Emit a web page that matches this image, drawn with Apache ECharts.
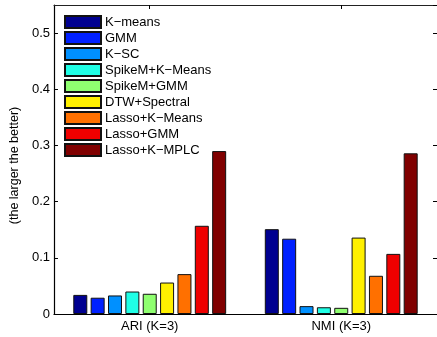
<!DOCTYPE html>
<html>
<head>
<meta charset="utf-8">
<script src="https://cdn.jsdelivr.net/npm/echarts@6/dist/echarts.min.js"></script>
<style>html,body{margin:0;padding:0;background:#fff;}#c{width:437px;height:337px;}</style>
</head>
<body>
<div id="c"></div>
<script>
const categories = ['ARI (K=3)', 'NMI (K=3)'];
const methods = ['K\u2212means', 'GMM', 'K\u2212SC', 'SpikeM+K\u2212Means', 'SpikeM+GMM', 'DTW+Spectral', 'Lasso+K\u2212Means', 'Lasso+GMM', 'Lasso+K\u2212MPLC'];
const ariValues = [0.034, 0.029, 0.033, 0.040, 0.036, 0.056, 0.071, 0.157, 0.290];
const nmiValues = [0.151, 0.134, 0.014, 0.012, 0.011, 0.136, 0.068, 0.107, 0.286];
const colors = ['#000090', '#0020FF', '#0090FF', '#1FFFE6', '#8FFF70', '#FFF000', '#FF7000', '#EF0000', '#800000'];
const yTicks = [0, 0.1, 0.2, 0.3, 0.4, 0.5];

const FONT = '"Liberation Sans", Arial, Helvetica, sans-serif';
const chart = echarts.init(document.getElementById('c'));

const series = methods.map((m, i) => ({
  name: m,
  type: 'bar',
  data: [ariValues[i], nmiValues[i]],
  barWidth: 14,
  barGap: '24%',
  itemStyle: { color: colors[i], borderColor: '#111', borderWidth: 1 },
  animation: false
}));

chart.setOption({
  animation: false,
  textStyle: { fontFamily: FONT },
  grid: { left: 51, right: -4, top: 5, bottom: 23, containLabel: false },
  legend: {
    orient: 'vertical',
    left: 64,
    top: 15,
    padding: 0,
    icon: 'rect',
    itemWidth: 36,
    itemHeight: 12,
    itemGap: 2,
    textStyle: { fontFamily: FONT, fontSize: 13, color: '#000', padding: [0, 0, 0, -1] },
    data: methods
  },
  xAxis: [{
    type: 'category',
    data: categories,
    position: 'bottom',
    axisLine: { lineStyle: { color: '#000', width: 1.2 } },
    axisTick: { show: true, inside: true, alignWithLabel: true, length: 4, lineStyle: { color: '#000' } },
    axisLabel: { color: '#000', fontSize: 13, fontFamily: FONT, margin: 6 }
  }, {
    type: 'category',
    data: categories,
    position: 'top',
    axisLine: { show: true, onZero: false, lineStyle: { color: '#222', width: 1 } },
    axisTick: { show: true, inside: true, alignWithLabel: true, length: 4, lineStyle: { color: '#000' } },
    axisLabel: { show: false }
  }],
  yAxis: [{
    type: 'value',
    min: 0,
    max: 0.55,
    interval: 0.1,
    name: '(the larger the better)',
    nameLocation: 'middle',
    nameGap: 32,
    nameTextStyle: { fontSize: 12.5, color: '#000', fontFamily: FONT, padding: [0, 12, 0, 0] },
    axisLine: { show: true, lineStyle: { color: '#000', width: 1.2 } },
    axisTick: { show: true, inside: true, length: 4, lineStyle: { color: '#000' } },
    axisLabel: { color: '#000', fontSize: 13, fontFamily: FONT, margin: 4, showMaxLabel: false,
      formatter: v => (yTicks.some(t => Math.abs(t - v) < 1e-9) ? String(+v.toFixed(1)) : '') },
    splitLine: { show: false }
  }, {
    type: 'value',
    min: 0,
    max: 0.55,
    interval: 0.1,
    position: 'right',
    axisLine: { show: true, lineStyle: { color: '#000', width: 1 } },
    axisTick: { show: true, inside: true, length: 4, lineStyle: { color: '#000' } },
    axisLabel: { show: false },
    splitLine: { show: false }
  }],
  series: series
});
</script>
</body>
</html>
